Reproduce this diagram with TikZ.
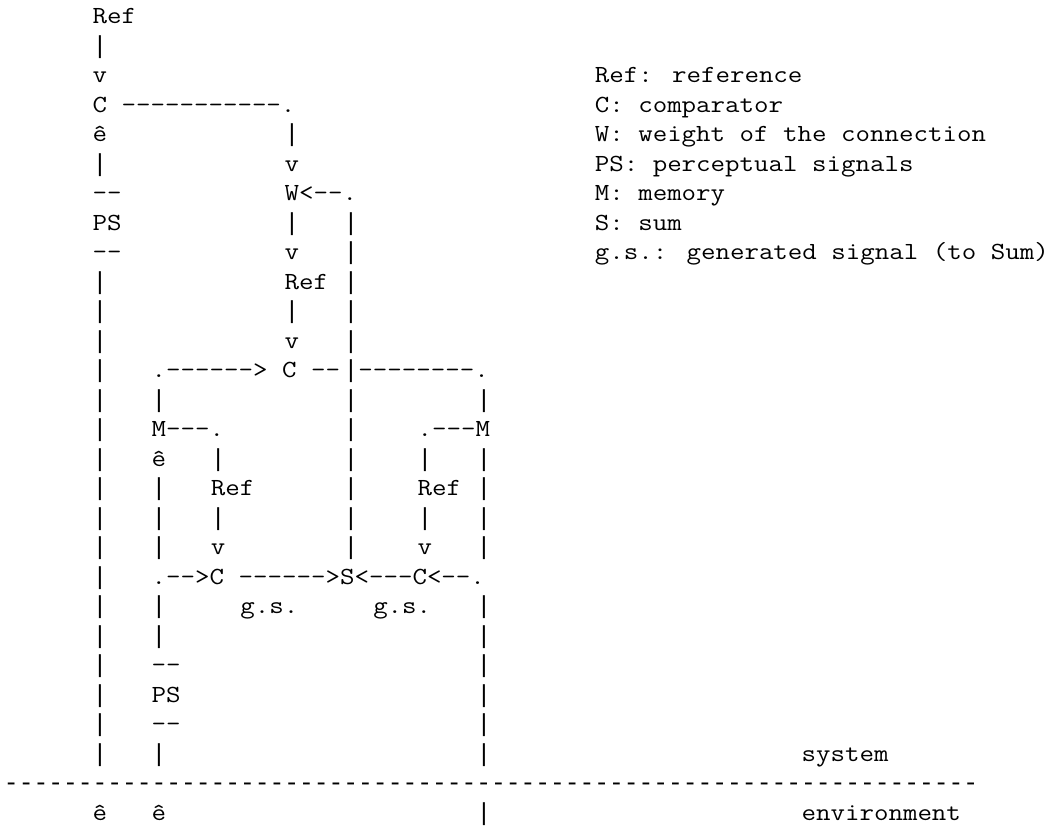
\documentclass[tikz,border=0pt]{standalone}
\usepackage{fontspec}
\usepackage{graphicx}
\newfontfamily\libmono{Liberation Mono}
\def\tenD{----------}
\def\oneL{-\kern0pt}
\def\tenL{\oneL\oneL\oneL\oneL\oneL\oneL\oneL\oneL\oneL\oneL}
\newcommand\cell[4]{\node[asc] (#1) at ({4pt+#2*14.77pt},{-23.5pt-#3*29.5pt}) {\scalebox{1.1437}[1]{#4}};}
\newcommand\vb[3]{\node[bar] (#1) at ({4pt+#2*14.77pt},{-23.5pt-#3*29.5pt}) {|};}
\tikzset{
  asc/.style={anchor=base west, inner sep=0pt, outer sep=0pt, text=black,
    font=\ttfamily\fontsize{24.6pt}{29.5pt}\selectfont},
  bar/.style={anchor=base west, inner sep=0pt, outer sep=0pt, text=black,
    font=\libmono\fontsize{24.6pt}{29.5pt}\selectfont}}
\begin{document}
\begin{tikzpicture}
\fill[white] (0,0) rectangle (1052pt,-825pt);
\useasboundingbox (0,0) rectangle (1052pt,-825pt);
% left column
\cell{ref0}{6}{0}{Ref}
\vb{l1}{6}{1}
\cell{l2}{6}{2}{v}
\cell{c0}{6}{3}{C \tenD-.}
\cell{l4}{6}{4}{ê}
\vb{l5}{6}{5}
\cell{l6}{6}{6}{--}
\cell{l7}{6}{7}{PS}
\cell{l8}{6}{8}{--}
\foreach \r in {9,...,25} {\vb{l\r}{6}{\r}}
% W branch
\vb{w4}{19}{4}
\cell{w5}{19}{5}{v}
\cell{w6}{19}{6}{W<--.}
\vb{w7}{19}{7}
\cell{w8}{19}{8}{v}
\cell{w9}{19}{9}{Ref}
\vb{w10}{19}{10}
\cell{w11}{19}{11}{v}
\foreach \r in {7,...,11} {\vb{f\r}{23}{\r}}
% middle comparator row
\cell{c12}{10}{12}{.------> C --}
\vb{f12}{23}{12}
\cell{c12b}{24}{12}{--------.}
\vb{a13}{10}{13}
\foreach \r in {13,...,18} {\vb{f\r}{23}{\r}}
\vb{b13}{32}{13}
\cell{a14}{10}{14}{M---.}
\cell{b14}{28}{14}{.---M}
\cell{a15}{10}{15}{ê}
\vb{d15}{14}{15}
\vb{e15}{28}{15}
\cell{d16}{14}{16}{Ref}
\cell{e16}{28}{16}{Ref}
\vb{d17}{14}{17}
\vb{e17}{28}{17}
\cell{d18}{14}{18}{v}
\cell{e18}{28}{18}{v}
\foreach \r in {16,17,18} {\vb{a\r}{10}{\r}}
\foreach \r in {15,...,18} {\vb{b\r}{32}{\r}}
% sum row
\cell{s19}{10}{19}{.-->C ------>S<---C<--.}
\cell{g1}{16}{20}{g.s.}
\cell{g2}{25}{20}{g.s.}
\foreach \r in {20,21,25} {\vb{a\r}{10}{\r}}
\cell{a22}{10}{22}{--}
\cell{a23}{10}{23}{PS}
\cell{a24}{10}{24}{--}
\foreach \r in {20,...,25} {\vb{b\r}{32}{\r}}
% boundary
\cell{sys}{54}{25}{system}
\node[bar] (bound) at (4pt,{-23.5pt-26*29.5pt}) {\tenL\tenL\tenL\tenL\tenL\tenL\oneL\oneL\oneL\oneL\oneL\oneL};
\cell{e27}{6}{27}{ê}
\cell{e27b}{10}{27}{ê}
\vb{b27}{32}{27}
\cell{env}{54}{27}{environment}
% legend
\cell{leg1}{40}{2}{Ref: reference}
\cell{leg2}{40}{3}{C: comparator}
\cell{leg3}{40}{4}{W: weight of the connection}
\cell{leg4}{40}{5}{PS: perceptual signals}
\cell{leg5}{40}{6}{M: memory}
\cell{leg6}{40}{7}{S: sum}
\cell{leg7}{40}{8}{g.s.: generated signal (to Sum)}
\end{tikzpicture}
\end{document}
